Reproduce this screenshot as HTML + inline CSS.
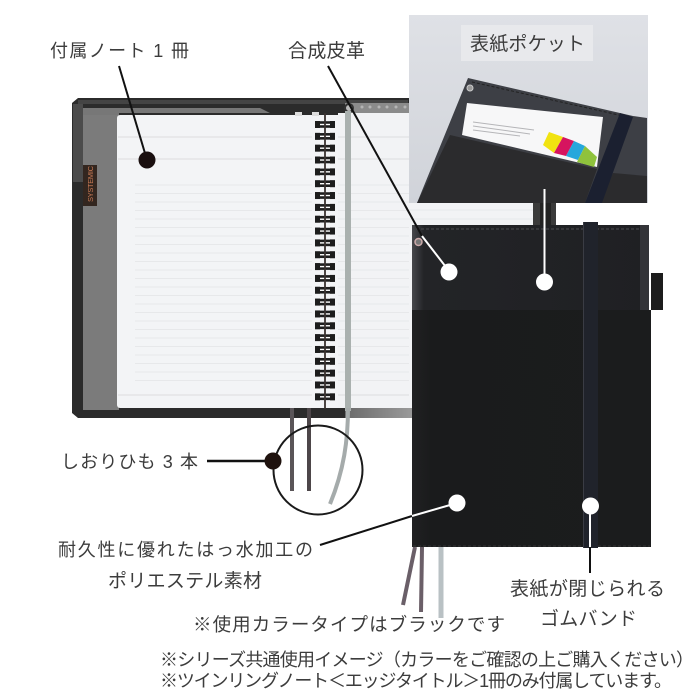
<!DOCTYPE html>
<html lang="ja"><head><meta charset="utf-8"><style>
html,body{margin:0;padding:0;background:#fff}svg{display:block}
text{font-family:"Liberation Sans","Noto Sans CJK JP",sans-serif;fill:#3c3c3c;font-weight:400}
</style></head><body>
<svg width="700" height="700" viewBox="0 0 700 700" xmlns="http://www.w3.org/2000/svg">
<defs>
<linearGradient id="ig" x1="0" y1="0" x2="0" y2="1"><stop offset="0" stop-color="#dfe1e6"/><stop offset="1" stop-color="#d0d3d9"/></linearGradient>
<linearGradient id="lg" x1="0" y1="0" x2="1" y2="0"><stop offset="0" stop-color="#47484c"/><stop offset=".05" stop-color="#232427"/><stop offset="1" stop-color="#1f2023"/></linearGradient>
<linearGradient id="pg" x1="0" y1="0" x2="1" y2="0"><stop offset="0" stop-color="#202122"/><stop offset=".08" stop-color="#1a1b1c"/><stop offset="1" stop-color="#1b1c1d"/></linearGradient>
<linearGradient id="bg" x1="0" y1="0" x2="1" y2="0"><stop offset="0" stop-color="#6a6a6a"/><stop offset="1" stop-color="#9a9a9a"/></linearGradient>
</defs>
<rect width="700" height="700" fill="#fff"/>

<!-- open notebook cover -->
<polygon points="78,98 409,98 409,113 345,113 345,408 412,408 412,418 345,418 78,418 72,413 72,103" fill="#2b2b2b"/>
<rect x="78" y="100" width="330" height="4" fill="#444"/>
<rect x="73" y="104" width="10" height="78" fill="#4b4b4b"/>
<rect x="83" y="108" width="36" height="302" fill="#7b7b7b"/>
<polygon points="83,108 260,108 270,113 119,113 119,115 83,115" fill="#777"/>
<rect x="345" y="408" width="67" height="10" fill="url(#bg)"/>

<!-- page -->
<rect x="117" y="115" width="295" height="293" rx="3" fill="#f3f4f6"/>
<rect x="338" y="113" width="195" height="295" fill="#f2f3f5"/>
<g stroke="#dcdcdf" stroke-width="1">
<path d="M118 137H312M118 159H312M338 137H409M338 159H409M118 395H312M338 395H409"/>
</g>
<g stroke="#e7e8ea" stroke-width="1">
<path d="M135 185H312M135 193.500H312M135 202H312M135 210.500H312M135 219H312M135 227.500H312M135 236H312M135 244.500H312M135 253H312M135 261.500H312M135 270H312M135 278.500H312M135 287H312M135 295.500H312M135 304H312M135 312.500H312M135 321H312M135 329.500H312M135 338H312M135 346.500H312M135 355H312M135 363.500H312M135 372H312M135 380.500H312"/>
<path d="M338 185H409M338 193.500H409M338 202H409M338 210.500H409M338 219H409M338 227.500H409M338 236H409M338 244.500H409M338 253H409M338 261.500H409M338 270H409M338 278.500H409M338 287H409M338 295.500H409M338 304H409M338 312.500H409M338 321H409M338 329.500H409M338 338H409M338 346.500H409M338 355H409M338 363.500H409M338 372H409M338 380.500H409"/>
<path d="M409 210H533M409 219H533"/>
</g>

<!-- top strip with holes -->
<rect x="345" y="103" width="65" height="10" fill="#8b8b8b"/>
<g fill="#b5b5b5"><circle cx="362" cy="107" r="1.500"/><circle cx="370" cy="107" r="1.500"/><circle cx="379" cy="107" r="1.500"/><circle cx="387" cy="107" r="1.500"/><circle cx="396" cy="107" r="1.500"/><circle cx="405" cy="107" r="1.500"/></g>
<circle cx="349" cy="108" r="4" fill="#bbb" stroke="#333" stroke-width="2"/>
<rect x="295" y="112" width="7" height="4" fill="#ddd"/><rect x="312" y="112" width="7" height="4" fill="#ddd"/>

<!-- tag -->
<rect x="83" y="165" width="14" height="41" fill="#33261f"/>
<text transform="translate(93,202) rotate(-90)" font-size="7.500" style="fill:#c97a55" textLength="36">SYSTEMIC</text>

<!-- rings -->
<g fill="#fff" stroke="#1d1d1d" stroke-width="2.600">
<rect x="316.500" y="122.500" width="17" height="4"/><rect x="316.500" y="134.340" width="17" height="4"/><rect x="316.500" y="146.180" width="17" height="4"/><rect x="316.500" y="158.020" width="17" height="4"/><rect x="316.500" y="169.860" width="17" height="4"/><rect x="316.500" y="181.700" width="17" height="4"/><rect x="316.500" y="193.540" width="17" height="4"/><rect x="316.500" y="205.380" width="17" height="4"/><rect x="316.500" y="217.220" width="17" height="4"/><rect x="316.500" y="229.060" width="17" height="4"/><rect x="316.500" y="240.900" width="17" height="4"/><rect x="316.500" y="252.740" width="17" height="4"/><rect x="316.500" y="264.580" width="17" height="4"/><rect x="316.500" y="276.420" width="17" height="4"/><rect x="316.500" y="288.260" width="17" height="4"/><rect x="316.500" y="300.100" width="17" height="4"/><rect x="316.500" y="311.940" width="17" height="4"/><rect x="316.500" y="323.780" width="17" height="4"/><rect x="316.500" y="335.620" width="17" height="4"/><rect x="316.500" y="347.460" width="17" height="4"/><rect x="316.500" y="359.300" width="17" height="4"/><rect x="316.500" y="371.140" width="17" height="4"/><rect x="316.500" y="382.980" width="17" height="4"/><rect x="316.500" y="394.820" width="17" height="4"/>
</g>
<g fill="#1d1d1d">
<rect x="315" y="121" width="5" height="7"/><rect x="330" y="121" width="5" height="7"/><rect x="315" y="132.840" width="5" height="7"/><rect x="330" y="132.840" width="5" height="7"/><rect x="315" y="144.680" width="5" height="7"/><rect x="330" y="144.680" width="5" height="7"/><rect x="315" y="156.520" width="5" height="7"/><rect x="330" y="156.520" width="5" height="7"/><rect x="315" y="168.360" width="5" height="7"/><rect x="330" y="168.360" width="5" height="7"/><rect x="315" y="180.200" width="5" height="7"/><rect x="330" y="180.200" width="5" height="7"/><rect x="315" y="192.040" width="5" height="7"/><rect x="330" y="192.040" width="5" height="7"/><rect x="315" y="203.880" width="5" height="7"/><rect x="330" y="203.880" width="5" height="7"/><rect x="315" y="215.720" width="5" height="7"/><rect x="330" y="215.720" width="5" height="7"/><rect x="315" y="227.560" width="5" height="7"/><rect x="330" y="227.560" width="5" height="7"/><rect x="315" y="239.400" width="5" height="7"/><rect x="330" y="239.400" width="5" height="7"/><rect x="315" y="251.240" width="5" height="7"/><rect x="330" y="251.240" width="5" height="7"/><rect x="315" y="263.080" width="5" height="7"/><rect x="330" y="263.080" width="5" height="7"/><rect x="315" y="274.920" width="5" height="7"/><rect x="330" y="274.920" width="5" height="7"/><rect x="315" y="286.760" width="5" height="7"/><rect x="330" y="286.760" width="5" height="7"/><rect x="315" y="298.600" width="5" height="7"/><rect x="330" y="298.600" width="5" height="7"/><rect x="315" y="310.440" width="5" height="7"/><rect x="330" y="310.440" width="5" height="7"/><rect x="315" y="322.280" width="5" height="7"/><rect x="330" y="322.280" width="5" height="7"/><rect x="315" y="334.120" width="5" height="7"/><rect x="330" y="334.120" width="5" height="7"/><rect x="315" y="345.960" width="5" height="7"/><rect x="330" y="345.960" width="5" height="7"/><rect x="315" y="357.800" width="5" height="7"/><rect x="330" y="357.800" width="5" height="7"/><rect x="315" y="369.640" width="5" height="7"/><rect x="330" y="369.640" width="5" height="7"/><rect x="315" y="381.480" width="5" height="7"/><rect x="330" y="381.480" width="5" height="7"/><rect x="315" y="393.320" width="5" height="7"/><rect x="330" y="393.320" width="5" height="7"/>
</g>
<line x1="325" y1="113" x2="325" y2="409" stroke="#3a3230" stroke-width="1.800"/>

<!-- silver ribbon -->
<rect x="345" y="111" width="6" height="300" fill="#aab1af"/>

<!-- ribbons left -->
<path d="M292 408V491" stroke="#5a5558" stroke-width="4"/>
<path d="M309 408V491" stroke="#4d4649" stroke-width="4"/>
<path d="M348 408C348 440 344 470 330 504" stroke="#a5abab" stroke-width="4" fill="none"/>
<circle cx="318" cy="470" r="44.500" fill="none" stroke="#1a1a1a" stroke-width="2"/>

<!-- closed cover holder band -->
<rect x="533" y="203" width="23" height="25" fill="#3a3a3a"/>
<rect x="540" y="203" width="11" height="25" fill="#222"/>

<!-- closed notebook -->
<path d="M415 547L403 605" stroke="#6a5f68" stroke-width="4"/>
<path d="M422 547L421 612" stroke="#6b5f68" stroke-width="4"/>
<path d="M441 547V618" stroke="#b9c1c4" stroke-width="5"/>
<rect x="651" y="273" width="12" height="37" fill="#1c1c1c"/>
<rect x="412" y="225" width="237" height="90" fill="url(#lg)"/>
<rect x="640" y="225" width="9" height="90" fill="#333438"/>
<path d="M416 229H640" stroke="#4b4c50" stroke-width="1" stroke-dasharray="3 2"/>
<circle cx="418.500" cy="242" r="3.500" fill="#777" stroke="#caa" stroke-width="1.500"/>
<rect x="412" y="310" width="239" height="237" fill="url(#pg)"/>
<path d="M413 546H650" stroke="#333" stroke-width="1" stroke-dasharray="3 2"/>
<rect x="583" y="222" width="15" height="326" fill="#20232b"/>
<rect x="583" y="222" width="1" height="326" fill="#3a3c44"/>

<!-- inset -->
<rect x="409" y="15" width="239" height="188" fill="url(#ig)"/>
<rect x="461" y="25" width="132" height="36" fill="#e8e9ec"/>
<polygon points="468,78 633,116 647,118 647,203 417,203" fill="#3d3f45"/>
<path d="M472 82L632 118" stroke="#222" stroke-width="1" stroke-dasharray="3 2" fill="none"/>
<circle cx="470" cy="88" r="3" fill="#999" stroke="#ccc" stroke-width="1"/>
<polygon points="467,103 603,117 597,167 462,135" fill="#f7f7f8"/>
<path d="M473 122L534 130M473 126L530 134M473 130L520 136" stroke="#b5b5b8" stroke-width="1"/>
<polygon points="549,132 563,137 554,153 543,145" fill="#f1e311"/>
<polygon points="563,137 574,141 566,156 554,153" fill="#d6145f"/>
<polygon points="574,141 585,146 578,160 566,156" fill="#25a7dc"/>
<polygon points="585,146 597,157 594,167 577,162 578,160" fill="#8fc23c"/>
<polygon points="450,135 597,169 585,203 417,203" fill="#2b2b2d"/>
<polygon points="613,173 647,176 647,203 600,203" fill="#2b2b2d"/>
<polygon points="620,113 633,117 602,203 585,203" fill="#1b2030"/>

<!-- leaders -->
<g stroke-linecap="butt" fill="none">
<path d="M119 66L147 160" stroke="#111" stroke-width="2"/>
<path d="M328 66L422 236" stroke="#111" stroke-width="2"/>
<path d="M422 236L449 271" stroke="#fff" stroke-width="2"/>
<path d="M544.500 189V282" stroke="#fff" stroke-width="2"/>
<path d="M207 461H270" stroke="#111" stroke-width="2.500"/>
<path d="M320 545L412 516" stroke="#111" stroke-width="2"/>
<path d="M412 516L457 503" stroke="#fff" stroke-width="2"/>
<path d="M590 506V547" stroke="#fff" stroke-width="2"/>
<path d="M590 547V573" stroke="#111" stroke-width="2"/>
</g>
<circle cx="147" cy="160" r="8.500" fill="#1a0f0f"/>
<circle cx="273" cy="461" r="8.500" fill="#1f120e"/>
<g fill="#fff"><circle cx="449" cy="272" r="8.500"/><circle cx="544.500" cy="282" r="8.500"/><circle cx="457" cy="503" r="8.500"/><circle cx="590.500" cy="506" r="8.500"/></g>

<!-- labels -->
<text x="50" y="57" font-size="18" textLength="139">付属ノート 1 冊</text>
<text x="288" y="57" font-size="19" textLength="77">合成皮革</text>
<text x="470" y="50" font-size="19" textLength="115">表紙ポケット</text>
<text x="61" y="468" font-size="18" textLength="137">しおりひも 3 本</text>
<text x="58" y="556" font-size="18" textLength="255">耐久性に優れたはっ水加工の</text>
<text x="108" y="587" font-size="19" textLength="154">ポリエステル素材</text>
<text x="193" y="631" font-size="18.500" textLength="312">※使用カラータイプはブラックです</text>
<text x="160" y="666" font-size="18" textLength="534">※シリーズ共通使用イメージ（カラーをご確認の上ご購入ください）</text>
<text x="160" y="687" font-size="18" textLength="512">※ツインリングノート＜エッジタイトル＞1冊のみ付属しています。</text>
<text x="510" y="595" font-size="19" textLength="155">表紙が閉じられる</text>
<text x="540" y="625" font-size="19" textLength="97">ゴムバンド</text>
</svg>
</body></html>
